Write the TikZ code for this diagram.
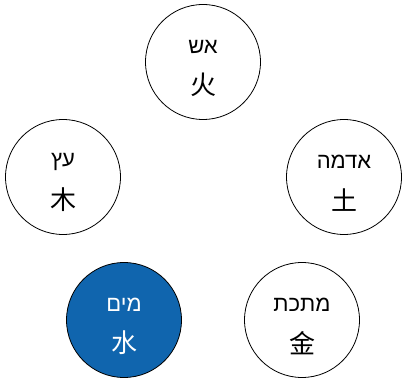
\documentclass[tikz,border=0pt]{standalone}
\usepackage{fontspec}
\TeXXeTstate=1
\newfontfamily\hebfont[Script=Hebrew]{Liberation Sans}
\newfontfamily\cjk{Noto Sans CJK SC}
\definecolor{waterblue}{RGB}{16,101,174}
\begin{document}
\begin{tikzpicture}[x=1pt,y=-1pt,
  elem/.style={circle,draw=black,line width=0.8pt,minimum size=115pt,inner sep=0pt,fill=white},
  heb/.style={font=\hebfont\fontsize{22}{24}\selectfont},
  han/.style={font=\cjk\fontsize{26}{28}\selectfont}]
\useasboundingbox (0,0) rectangle (402,382);
\node[elem] (fire) at (203,62) {};
\node[elem] (wood) at (63,177) {};
\node[elem] (earth) at (344,177) {};
\node[elem,fill=waterblue] (water) at (124,320) {};
\node[elem] (metal) at (302,320) {};
\node[heb] (fireh) at ([yshift=15pt]fire.center) {\beginR אש\endR};
\node[han] (firec) at ([yshift=-23pt]fire.center) {火};
\node[heb] (woodh) at ([yshift=15pt]wood.center) {\beginR עץ\endR};
\node[han] (woodc) at ([yshift=-23pt]wood.center) {木};
\node[heb] (earthh) at ([yshift=15pt]earth.center) {\beginR אדמה\endR};
\node[han] (earthc) at ([yshift=-23pt]earth.center) {土};
\node[heb,text=white] (waterh) at ([yshift=15pt]water.center) {\beginR מים\endR};
\node[han,text=white] (waterc) at ([yshift=-23pt]water.center) {水};
\node[heb] (metalh) at ([yshift=15pt]metal.center) {\beginR מתכת\endR};
\node[han] (metalc) at ([yshift=-23pt]metal.center) {金};
\end{tikzpicture}
\end{document}
